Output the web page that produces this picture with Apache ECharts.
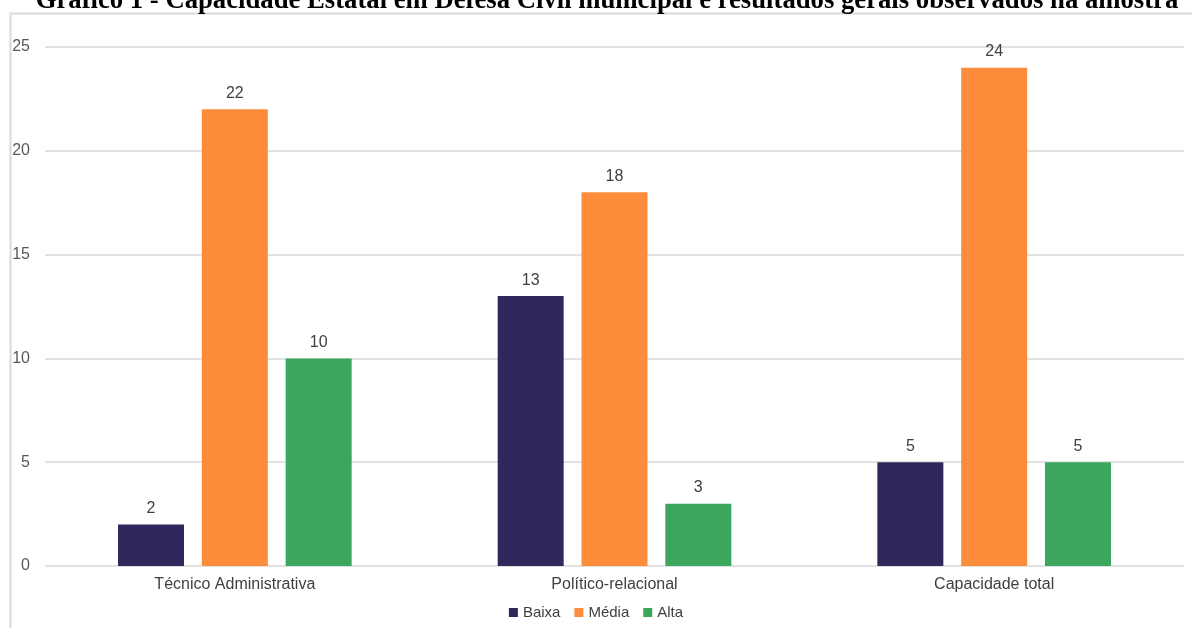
<!DOCTYPE html>
<html>
<head>
<meta charset="utf-8">
<script src="https://cdn.jsdelivr.net/npm/echarts@6/dist/echarts.min.js"></script>
<style>
  html, body { margin: 0; padding: 0; background: #fff; }
  #chart { width: 1192px; height: 628px; }
</style>
</head>
<body>
<div id="chart"></div>
<script>
// Capacity dimensions and counts of municipalities per level
const categories = ['Técnico Administrativa', 'Político-relacional', 'Capacidade total'];
const seriesNames = ['Baixa', 'Média', 'Alta'];
const baixa = [2, 13, 5];
const media = [22, 18, 24];
const alta = [10, 3, 5];
const yTicks = [0, 5, 10, 15, 20, 25];

const titleText = 'Gráfico 1 - Capacidade Estatal em Defesa Civil municipal e resultados gerais observados na amostra';
const colors = ['#2e285c', '#fd8c3b', '#3aa75d'];
const sans = '"Liberation Sans", Arial, sans-serif';

const chart = echarts.init(document.getElementById('chart'), null, { renderer: 'canvas' });

function barSeries(name, data, color) {
  return {
    name: name,
    type: 'bar',
    data: data,
    barWidth: 66,
    barGap: '27%',
    itemStyle: { color: color },
    label: {
      show: true,
      position: 'top',
      distance: 8,
      color: '#404040',
      fontFamily: sans,
      fontSize: 16
    }
  };
}

chart.setOption({
  animation: false,
  color: colors,
  graphic: [
    {
      type: 'rect',
      shape: { x: 10.5, y: 13.5, width: 1200, height: 700 },
      style: { fill: 'none', stroke: '#d9d9d9', lineWidth: 2 },
      silent: true
    },
    {
      type: 'text',
      x: 607,
      y: -12.5,
      style: {
        text: titleText,
        align: 'center',
        verticalAlign: 'top',
        font: 'bold 26.7px "Liberation Serif", "Times New Roman", serif',
        fill: '#000'
      }
    }
  ],
  grid: { left: 45, right: 8, top: 47, bottom: 62 },
  legend: {
    bottom: 3,
    left: 'center',
    icon: 'rect',
    itemWidth: 9,
    itemHeight: 9,
    itemGap: 14,
    textStyle: { color: '#404040', fontFamily: sans, fontSize: 15 },
    data: seriesNames
  },
  xAxis: {
    type: 'category',
    data: categories,
    axisLine: { show: false },
    axisTick: { show: false },
    axisLabel: { color: '#404040', fontFamily: sans, fontSize: 16, margin: 11 }
  },
  yAxis: {
    type: 'value',
    min: yTicks[0],
    max: yTicks[yTicks.length - 1],
    interval: yTicks[1] - yTicks[0],
    axisLine: { show: false },
    axisTick: { show: false },
    axisLabel: { color: '#595959', fontFamily: sans, fontSize: 16, margin: 15 },
    splitLine: { lineStyle: { color: '#d9d9d9', width: 1.5 } }
  },
  series: [
    barSeries(seriesNames[0], baixa, colors[0]),
    barSeries(seriesNames[1], media, colors[1]),
    barSeries(seriesNames[2], alta, colors[2])
  ]
});
</script>
</body>
</html>
